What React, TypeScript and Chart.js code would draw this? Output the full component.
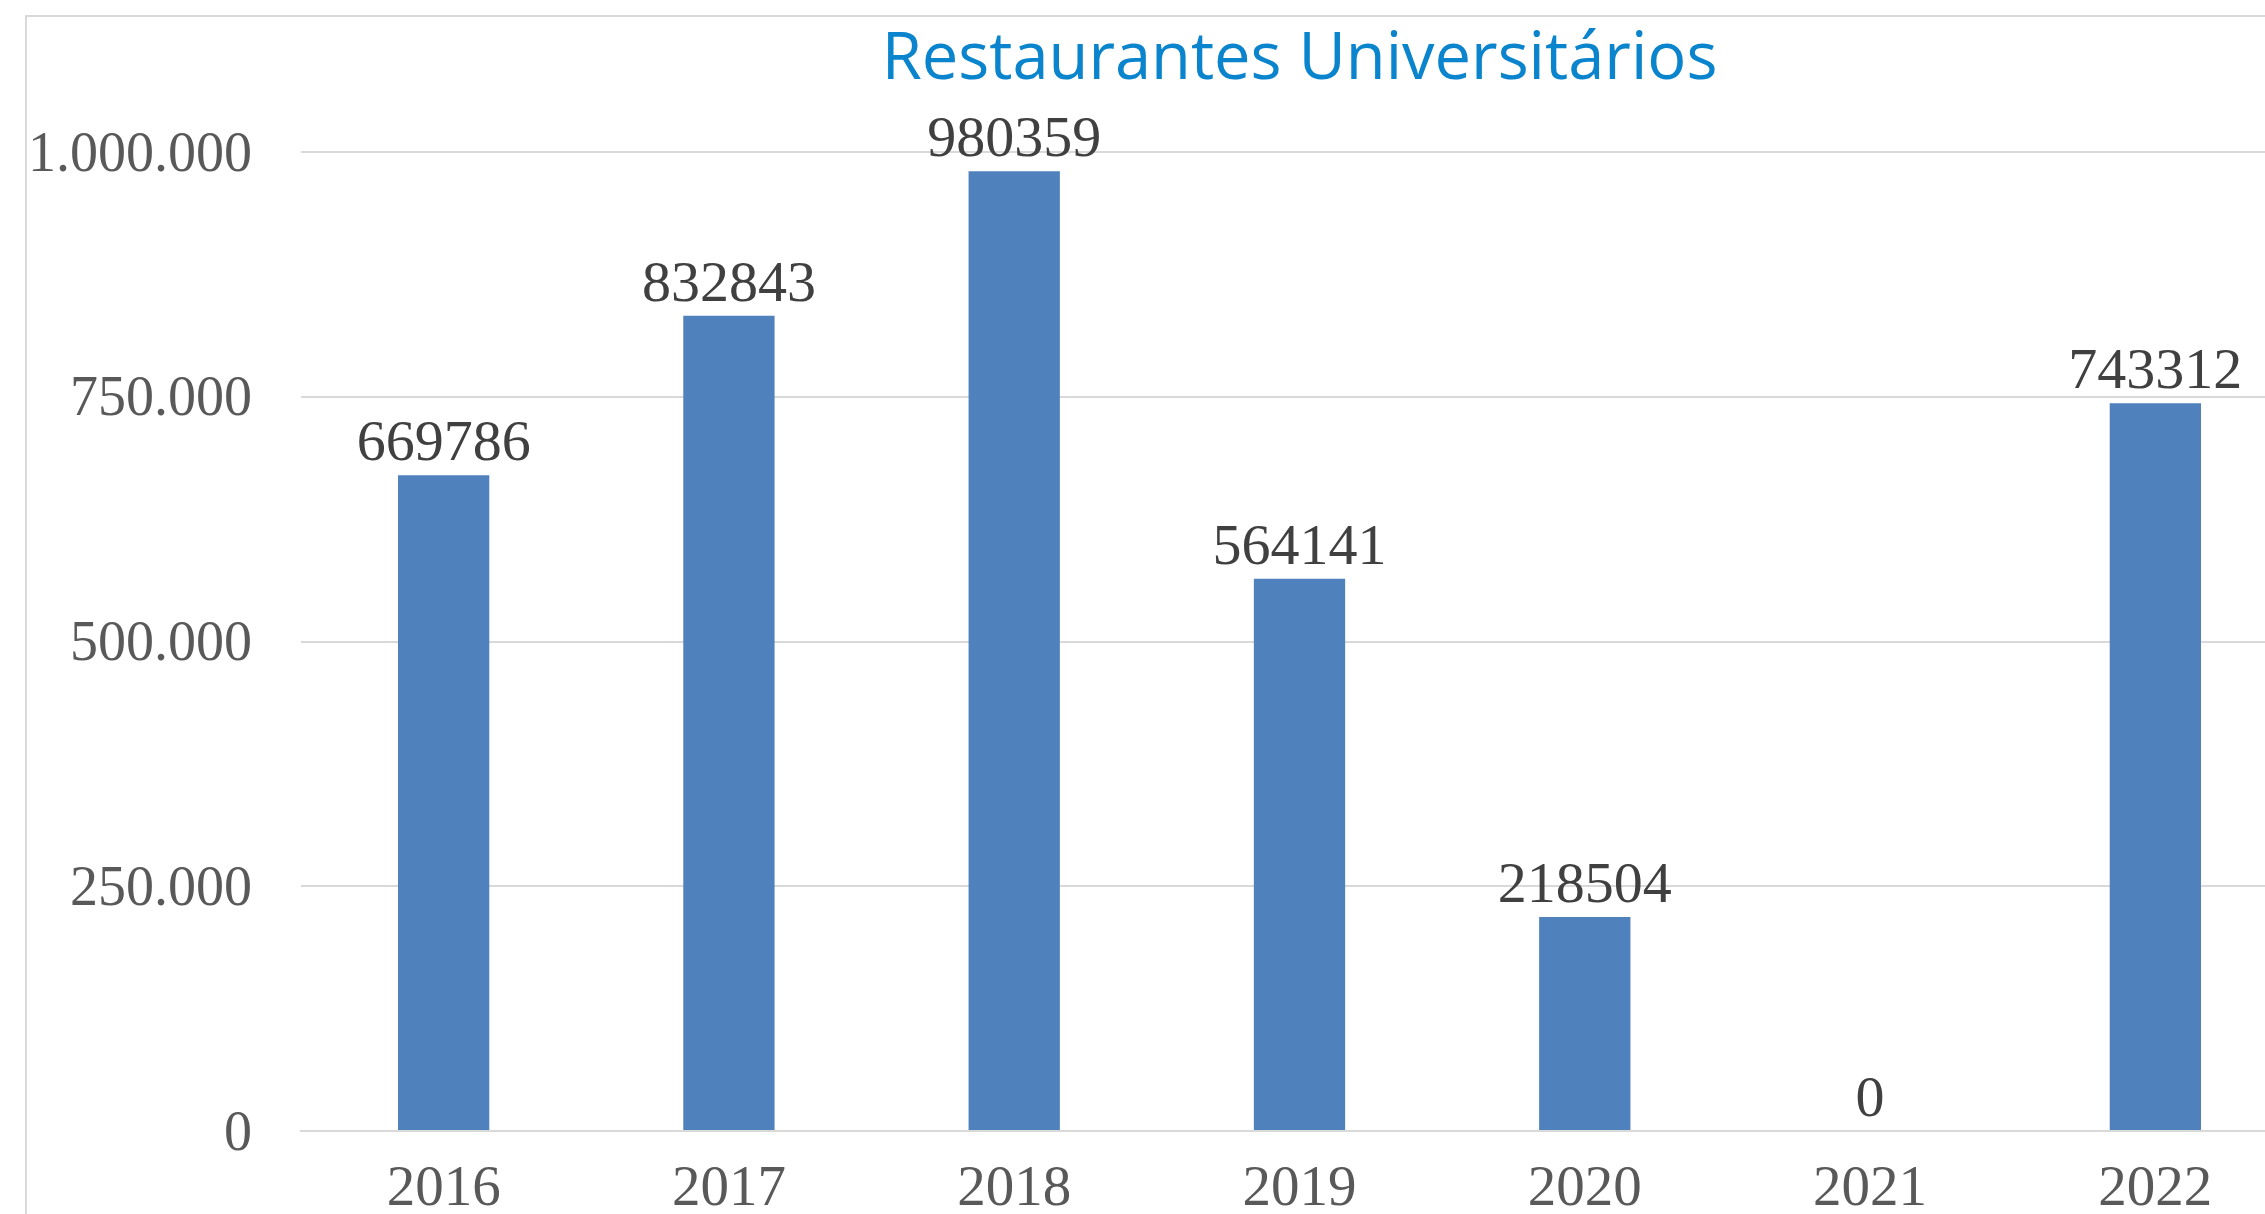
import React, { useEffect, useRef } from "react";
import { Chart, registerables } from "chart.js";

Chart.register(...registerables);

const TITLE = "Restaurantes Universitários";
const categories = ["2016", "2017", "2018", "2019", "2020", "2021", "2022"];
const values = [669786, 832843, 980359, 564141, 218504, 0, 743312];
const yMin = 0;
const yMax = 1000000;
const yStep = 250000;

const W = 2360;
const H = 1260;

const fmt = (v: number) => String(v).replace(/\B(?=(\d{3})+(?!\d))/g, ".");

const frame = {
  id: "frame",
  beforeDraw(chart: any) {
    const ctx = chart.ctx;
    ctx.save();
    ctx.fillStyle = "#ffffff";
    ctx.fillRect(0, 0, chart.width, chart.height);
    ctx.strokeStyle = "#d9d9d9";
    ctx.lineWidth = 2;
    ctx.strokeRect(26, 16, chart.width + 50, chart.height + 50);
    ctx.restore();
  },
};

const dataLabels = {
  id: "dataLabels",
  afterDatasetsDraw(chart: any) {
    const ctx = chart.ctx;
    const meta = chart.getDatasetMeta(0);
    ctx.save();
    ctx.font = "58px 'Liberation Serif'";
    ctx.fillStyle = "#404040";
    ctx.textAlign = "center";
    ctx.textBaseline = "alphabetic";
    meta.data.forEach((el: any, i: number) => {
      const v = chart.data.datasets[0].data[i];
      ctx.fillText(String(v), el.x, el.y - 15);
    });
    ctx.restore();
  },
};

export default function App() {
  const ref = useRef<HTMLCanvasElement | null>(null);
  useEffect(() => {
    if (!ref.current) return;
    const titleSize = 65;
    const titleTop = 21;
    const chart = new Chart(ref.current, {
      type: "bar",
      data: {
        labels: categories,
        datasets: [
          {
            data: values,
            backgroundColor: "#4f81bd",
            borderWidth: 0,
            categoryPercentage: 1,
            barPercentage: 0.32,
          },
        ],
      },
      options: {
        responsive: false,
        animation: false,
        layout: { padding: { left: 0, right: W - 2298, top: 0, bottom: 0 } },
        plugins: {
          legend: { display: false },
          tooltip: { enabled: false },
          title: {
            display: true,
            text: TITLE,
            fullSize: false,
            color: "#0a84cc",
            font: { family: "'Open Sans'", size: titleSize, weight: "normal", lineHeight: 1.2 },
            padding: { top: titleTop, bottom: 152 - titleTop - titleSize * 1.2 },
          },
        },
        scales: {
          x: {
            grid: { display: false, drawTicks: false },
            border: { display: true, color: "#d9d9d9", width: 2 },
            ticks: {
              color: "#595959",
              font: { family: "'Liberation Serif'", size: 57 },
              padding: 25,
              maxRotation: 0,
            },
            afterFit: (s: any) => {
              s.height = H - 1131;
            },
          },
          y: {
            min: yMin,
            max: yMax,
            grid: { color: "#d9d9d9", lineWidth: 2, drawTicks: false },
            border: { display: false },
            ticks: {
              stepSize: yStep,
              color: "#595959",
              font: { family: "'Liberation Serif'", size: 56 },
              padding: 49,
              labelOffset: 4,
              callback: (v: any) => fmt(Number(v)),
            },
            afterFit: (s: any) => {
              s.width = 301;
            },
          },
        },
      },
      plugins: [frame, dataLabels],
    });
    return () => chart.destroy();
  }, []);

  return (
    <div
      style={{
        position: "fixed",
        left: 0,
        top: 0,
        width: "2265px",
        height: "1214px",
        overflow: "hidden",
        background: "#fff",
      }}
    >
      <canvas ref={ref} width={W} height={H} style={{ display: "block", width: W + "px", height: H + "px" }} />
    </div>
  );
}
